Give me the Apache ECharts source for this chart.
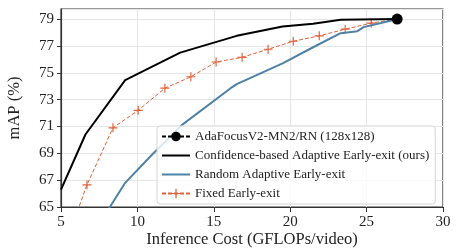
<!DOCTYPE html>
<html>
<head>
<meta charset="utf-8">
<script src="https://cdn.jsdelivr.net/npm/echarts@6/dist/echarts.min.js"></script>
<style>
  html, body { margin: 0; padding: 0; background: #fff; }
  #chart { width: 459px; height: 249px; }
</style>
</head>
<body>
<div id="chart"></div>
<script>
// data (x = GFLOPs/video, y = mAP %)
var adaFocus = [[27.0, 79.0]];
var confidenceExit = [[5.0, 66.3], [6.6, 70.4], [9.2, 74.45], [12.8, 76.5], [16.5, 77.75],
    [19.5, 78.45], [21.5, 78.65], [23.3, 78.95], [27.0, 79.0]];
var randomExit = [[7.9, 64.4], [8.2, 65.0], [9.2, 66.8], [11.0, 68.95], [12.9, 71.1],
    [16.1, 73.85], [16.5, 74.15], [19.5, 75.7], [21.5, 76.9], [23.3, 77.95],
    [24.4, 78.1], [24.8, 78.4], [26.5, 78.85], [27.0, 79.0]];
var fixedExit = [[5.0, 61.3], [6.7, 66.65], [8.4, 70.9], [10.05, 72.2], [11.8, 73.85],
    [13.5, 74.7], [15.15, 75.8], [16.85, 76.15], [18.55, 76.75], [20.2, 77.35],
    [21.9, 77.75], [23.6, 78.25], [25.3, 78.7], [27.0, 79.0]];
var seriesNames = ['AdaFocusV2-MN2/RN (128x128)', 'Confidence-based Adaptive Early-exit (ours)',
    'Random Adaptive Early-exit', 'Fixed Early-exit'];

var serif = 'Liberation Serif';
var plusPath = 'path://M4.35,0H5.65V4.35H10V5.65H5.65V10H4.35V5.65H0V4.35H4.35Z';
var linePath = 'path://M0,0H28V2H0Z';
var red = '#e0613a';
var blue = '#4f80a5';

var myChart = echarts.init(document.getElementById('chart'));

var option = {
    animation: false,
    textStyle: { fontFamily: serif },
    grid: {
        left: 61, right: 16, top: 9, bottom: 42,
        outerBoundsMode: 'none',
        show: true, borderColor: '#333', borderWidth: 1.2
    },
    legend: {
        orient: 'vertical',
        left: 157, top: 126,
        data: [
            { name: seriesNames[0], lineStyle: { type: [4, 2] } },
            { name: seriesNames[1], icon: linePath },
            { name: seriesNames[2], icon: linePath },
            { name: seriesNames[3], lineStyle: { type: [4, 2] } }
        ],
        itemWidth: 28, itemHeight: 12, itemGap: 6,
        padding: [4, 6, 4, 4],
        backgroundColor: 'rgba(255,255,255,0.8)',
        borderColor: '#d6d6d6', borderWidth: 1, borderRadius: 3,
        textStyle: { fontFamily: serif, fontSize: 13, color: '#222' }
    },
    xAxis: {
        type: 'value',
        min: 5, max: 30, interval: 5,
        name: 'Inference Cost (GFLOPs/video)',
        nameLocation: 'middle', nameGap: 24, nameMoveOverlap: false,
        nameTextStyle: { fontFamily: serif, fontSize: 16.5, color: '#222' },
        axisLine: { show: true, lineStyle: { color: '#333', width: 1.2 } },
        axisTick: { show: true, length: 5, lineStyle: { color: '#333' } },
        axisLabel: { fontFamily: serif, fontSize: 15, color: '#222', margin: 8 },
        splitLine: { show: true, lineStyle: { color: '#e6e6e6', width: 1 } }
    },
    yAxis: {
        type: 'value',
        min: 65, max: 79.75, interval: 2,
        name: 'mAP (%)',
        nameLocation: 'middle', nameGap: 38, nameMoveOverlap: false,
        nameTextStyle: { fontFamily: serif, fontSize: 16.5, color: '#222' },
        axisLine: { show: true, lineStyle: { color: '#333', width: 1.2 } },
        axisTick: { show: true, length: 4, lineStyle: { color: '#333' } },
        axisLabel: { fontFamily: serif, fontSize: 15, color: '#222', margin: 7, showMaxLabel: false },
        splitLine: { show: true, lineStyle: { color: '#e6e6e6', width: 1 } }
    },
    series: [
        {
            name: seriesNames[0], type: 'line', data: adaFocus, z: 10,
            symbol: 'circle', symbolSize: 11,
            itemStyle: { color: '#000' },
            lineStyle: { color: '#000', width: 1.5, type: 'dashed' }
        },
        {
            name: seriesNames[1], type: 'line', data: confidenceExit, z: 4,
            symbol: 'none',
            itemStyle: { color: '#000' },
            lineStyle: { color: '#000', width: 2 }
        },
        {
            name: seriesNames[2], type: 'line', data: randomExit, z: 3,
            symbol: 'none',
            itemStyle: { color: blue },
            lineStyle: { color: blue, width: 2 }
        },
        {
            name: seriesNames[3], type: 'line', data: fixedExit, z: 2,
            symbol: plusPath, symbolSize: 9,
            itemStyle: { color: red },
            lineStyle: { color: red, width: 1, type: [4, 2] }
        }
    ]
};

myChart.setOption(option);
</script>
</body>
</html>
